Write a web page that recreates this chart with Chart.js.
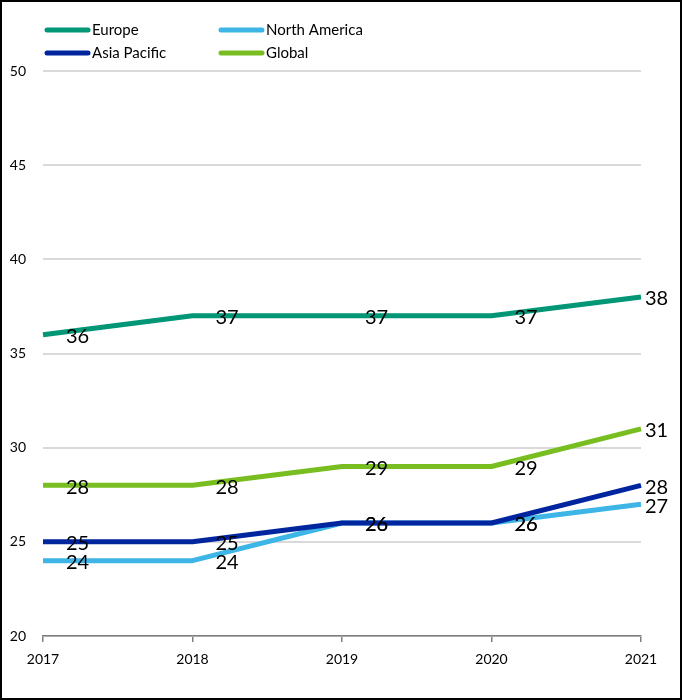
<!DOCTYPE html>
<html lang="en">
<head>
<meta charset="UTF-8">
<title>Regional index 2017-2021</title>
<script src="https://cdn.jsdelivr.net/npm/chart.js"></script>
<style>
    body { margin: 0; background: #fff; }
    .moldura {
        width: 682px;
        height: 700px;
        box-sizing: border-box;
        border: 2px solid #000;
        position: relative;
    }
    .moldura canvas { display: block; }
</style>
</head>
<body>
<div class="moldura">
    <canvas id="grafico" width="678" height="696"></canvas>
</div>
<script>
    // dados
    const anos = ['2017', '2018', '2019', '2020', '2021'];
    const europa = [36, 37, 37, 37, 38];
    const americaNorte = [24, 24, 26, 26, 27];
    const asiaPacifico = [25, 25, 26, 26, 28];
    const global = [28, 28, 29, 29, 31];
    const ticksY = [20, 25, 30, 35, 40, 45, 50];

    const fonte = 'Lato, "Open Sans", sans-serif';

    // rótulos de valor ao lado de cada ponto
    const rotulos = {
        id: 'rotulos',
        afterDatasetsDraw(chart) {
            const ctx = chart.ctx;
            ctx.save();
            ctx.font = '20px ' + fonte;
            ctx.fillStyle = '#000';
            ctx.textAlign = 'left';
            ctx.textBaseline = 'middle';
            chart.data.datasets.forEach((ds, i) => {
                const meta = chart.getDatasetMeta(i);
                meta.data.forEach((pt, j) => {
                    const dx = j === ds.data.length - 1 ? 4 : 23;
                    ctx.fillText(String(ds.data[j]), pt.x + dx, pt.y + 2);
                });
            });
            ctx.restore();
        }
    };

    // legenda em duas colunas
    const legenda = {
        id: 'legenda',
        afterDraw(chart) {
            const ctx = chart.ctx;
            const pos = [[45, 28], [219, 28], [45, 51], [219, 51]];
            const itens = ['Europe', 'North America', 'Asia Pacific', 'Global'];
            ctx.save();
            ctx.font = '15px ' + fonte;
            ctx.textBaseline = 'middle';
            ctx.textAlign = 'left';
            itens.forEach((nome, k) => {
                const ds = chart.data.datasets.find(d => d.label === nome);
                const [x, y] = pos[k];
                ctx.strokeStyle = ds.borderColor;
                ctx.lineWidth = 5;
                ctx.lineCap = 'round';
                ctx.beginPath();
                ctx.moveTo(x, y);
                ctx.lineTo(x + 41, y);
                ctx.stroke();
                ctx.fillStyle = '#000';
                ctx.fillText(nome, x + 45, y);
            });
            ctx.restore();
        }
    };

    const ctx1 = document.getElementById('grafico');

    new Chart(ctx1, {
        type: 'line',
        data: {
            labels: anos,
            datasets: [{
                label: 'Europe',
                data: europa,
                borderColor: '#009676',
                order: 0
            }, {
                label: 'North America',
                data: americaNorte,
                borderColor: '#3db5e6',
                order: 2
            }, {
                label: 'Asia Pacific',
                data: asiaPacifico,
                borderColor: '#00259e',
                order: 1
            }, {
                label: 'Global',
                data: global,
                borderColor: '#78be21',
                order: 3
            }]
        },
        options: {
            responsive: false,
            animation: false,
            layout: {
                padding: { left: 0, right: 39, top: 69, bottom: 0 }
            },
            elements: {
                point: { radius: 0 },
                line: { borderWidth: 5, tension: 0, borderJoinStyle: 'round', fill: false }
            },
            scales: {
                x: {
                    offset: false,
                    grid: {
                        drawOnChartArea: false,
                        drawTicks: true,
                        tickLength: 6,
                        color: '#7f7f7f',
                        lineWidth: 1.5
                    },
                    border: { display: true, color: '#7f7f7f', width: 1.5 },
                    ticks: {
                        color: '#000',
                        padding: 9,
                        maxRotation: 0,
                        font: { family: fonte, size: 14 }
                    },
                    afterFit(scale) { scale.height = 62; }
                },
                y: {
                    min: 20,
                    max: 50,
                    afterBuildTicks(scale) {
                        scale.ticks = ticksY.map(v => ({ value: v }));
                    },
                    grid: {
                        drawTicks: false,
                        color: '#d9d9d9',
                        lineWidth: 2
                    },
                    border: { display: false },
                    ticks: {
                        color: '#000',
                        padding: 17,
                        font: { family: fonte, size: 14 }
                    },
                    afterFit(scale) { scale.width = 41; }
                }
            },
            plugins: {
                legend: { display: false },
                tooltip: { enabled: false }
            }
        },
        plugins: [rotulos, legenda]
    });
</script>
</body>
</html>
